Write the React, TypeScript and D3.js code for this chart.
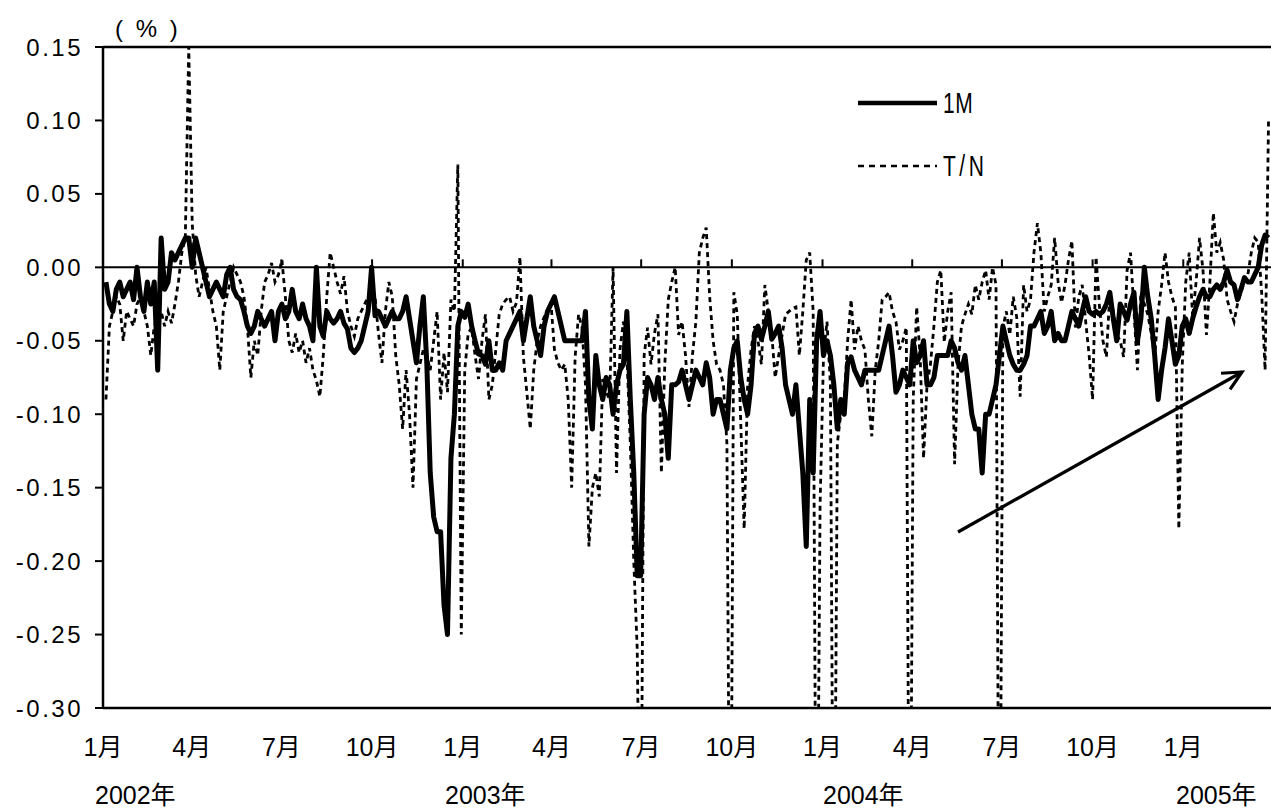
import React from 'react';
import * as d3 from 'd3';

// ---------- DATA (half-week steps from early Jan 2002) ----------
const oneM2002 = [
  -0.01, -0.025, -0.03, -0.015, -0.01, -0.02, -0.015, -0.01, -0.022, 0.0, -0.02, -0.03, -0.01,
  -0.025, -0.01, -0.07, 0.02, -0.015, -0.01, 0.01, 0.005, 0.01, 0.015, 0.02, 0.02, 0.0,
  0.02, 0.01, 0.0, -0.01, -0.02, -0.015, -0.01, -0.015, -0.02, -0.005, 0.0, -0.015, -0.02,
  -0.022, -0.03, -0.04, -0.045, -0.04, -0.03, -0.035, -0.04, -0.035, -0.03, -0.05, -0.03, -0.025,
  -0.035, -0.03, -0.015, -0.03, -0.035, -0.025, -0.035, -0.04, -0.05, 0.0, -0.04, -0.047, -0.03,
  -0.035, -0.038, -0.035, -0.03, -0.038, -0.042, -0.055, -0.058, -0.055, -0.05, -0.04, -0.03, 0.0,
  -0.033, -0.03, -0.035, -0.04, -0.035, -0.03, -0.035, -0.035, -0.03, -0.02, -0.035, -0.05, -0.065,
  -0.04, -0.02, -0.065, -0.14, -0.17, -0.18, -0.18, -0.23, -0.25, -0.13, -0.10, -0.04, -0.03,
];
const oneM2003 = [
  -0.034, -0.025, -0.04, -0.05, -0.059, -0.06, -0.066, -0.05, -0.07, -0.07, -0.065, -0.07, -0.05,
  -0.045, -0.04, -0.035, -0.03, -0.05, -0.035, -0.02, -0.04, -0.05, -0.06, -0.04, -0.03, -0.025,
  -0.02, -0.03, -0.04, -0.05, -0.05, -0.05, -0.05, -0.05, -0.05, -0.03, -0.09, -0.11, -0.06,
  -0.08, -0.09, -0.075, -0.08, -0.10, -0.08, -0.07, -0.066, -0.03, -0.09, -0.14, -0.21, -0.21,
  -0.10, -0.075, -0.08, -0.09, -0.075, -0.09, -0.10, -0.13, -0.08, -0.08, -0.078, -0.07, -0.08,
  -0.09, -0.08, -0.07, -0.075, -0.08, -0.065, -0.075, -0.10, -0.09, -0.09, -0.10, -0.11, -0.07,
  -0.055, -0.05, -0.075, -0.09, -0.10, -0.08, -0.045, -0.04, -0.049, -0.04, -0.03, -0.049, -0.045,
  -0.04, -0.055, -0.08, -0.09, -0.10, -0.08, -0.11, -0.14, -0.19, -0.09, -0.14, -0.05, -0.03,
];
const oneM2004 = [
  -0.06, -0.05, -0.06, -0.08, -0.11, -0.09, -0.10, -0.065, -0.061, -0.07, -0.075, -0.08, -0.07,
  -0.07, -0.07, -0.07, -0.07, -0.06, -0.05, -0.04, -0.06, -0.085, -0.08, -0.07, -0.075, -0.08,
  -0.05, -0.065, -0.06, -0.05, -0.08, -0.08, -0.075, -0.06, -0.06, -0.06, -0.06, -0.05, -0.055,
  -0.065, -0.07, -0.06, -0.08, -0.10, -0.11, -0.11, -0.14, -0.10, -0.10, -0.09, -0.08, -0.06,
  -0.04, -0.05, -0.06, -0.066, -0.07, -0.07, -0.066, -0.06, -0.04, -0.04, -0.035, -0.03, -0.045,
  -0.04, -0.03, -0.05, -0.045, -0.05, -0.05, -0.04, -0.03, -0.035, -0.04, -0.03, -0.02, -0.03,
  -0.032, -0.03, -0.032, -0.03, -0.025, -0.017, -0.035, -0.05, -0.025, -0.03, -0.036, -0.025, -0.017,
  -0.05, -0.035, 0.0, -0.02, -0.035, -0.06, -0.09, -0.07, -0.055, -0.035, -0.05, -0.066, -0.06,
];
const oneM2005 = [
  -0.04, -0.035, -0.045, -0.035, -0.027, -0.02, -0.015, -0.02, -0.02, -0.015, -0.012, -0.015, -0.01,
  -0.002, -0.01, -0.012, -0.022, -0.015, -0.007, -0.01, -0.01, -0.005, 0.0, 0.015, 0.022, 0.02,
];

const tn2002 = [
  -0.09, -0.04, -0.03, -0.02, -0.025, -0.05, -0.03, -0.035, -0.04, -0.025, -0.02, -0.03, -0.04,
  -0.06, -0.04, -0.035, -0.03, -0.04, -0.03, -0.038, -0.025, -0.01, 0.01, 0.02, 0.15, 0.03,
  -0.005, -0.02, -0.01, 0.0, -0.015, -0.03, -0.04, -0.07, -0.03, -0.02, -0.01, 0.0, -0.005,
  -0.01, -0.02, -0.04, -0.075, -0.05, -0.06, -0.03, -0.01, -0.005, 0.003, -0.01, -0.005, 0.005,
  -0.02, -0.05, -0.058, -0.045, -0.058, -0.05, -0.065, -0.055, -0.07, -0.077, -0.088, -0.06, -0.02,
  0.01, 0.0, -0.01, -0.018, -0.006, -0.03, -0.04, -0.047, -0.035, -0.03, -0.025, -0.02, -0.015,
  -0.02, -0.045, -0.065, -0.03, -0.01, -0.02, -0.06, -0.08, -0.11, -0.07, -0.10, -0.15, -0.076,
  -0.066, -0.056, -0.06, -0.07, -0.05, -0.03, -0.09, -0.058, -0.085, -0.022, -0.03, 0.07, -0.25,
];
const tn2003 = [
  -0.07, -0.045, -0.041, -0.06, -0.076, -0.05, -0.032, -0.09, -0.08, -0.056, -0.032, -0.025, -0.022,
  -0.02, -0.03, -0.024, 0.007, -0.061, -0.085, -0.11, -0.07, -0.05, -0.04, -0.034, -0.03, -0.024,
  -0.056, -0.065, -0.07, -0.066, -0.09, -0.15, -0.061, -0.032, -0.041, -0.08, -0.19, -0.15, -0.14,
  -0.156, -0.076, -0.085, -0.09, 0.0, -0.14, -0.056, -0.037, -0.06, -0.12, -0.20, -0.26, -0.45,
  -0.06, -0.041, -0.066, -0.045, -0.032, -0.14, -0.066, -0.022, -0.01, 0.0, -0.046, -0.037, -0.06,
  -0.095, -0.06, -0.037, 0.01, 0.02, 0.027, -0.02, -0.05, -0.066, -0.07, -0.08, -0.12, -0.50,
  -0.017, -0.032, -0.105, -0.178, -0.08, -0.056, -0.04, -0.05, -0.066, -0.012, -0.03, -0.046, -0.075,
  -0.06, -0.046, -0.032, -0.03, -0.028, -0.027, -0.06, -0.03, 0.005, 0.01, -0.03, -0.50, -0.163,
];
const tn2004 = [
  -0.06, -0.037, -0.08, -0.50, -0.12, -0.10, -0.09, -0.05, -0.022, -0.056, -0.04, -0.05, -0.056,
  -0.09, -0.115, -0.07, -0.05, -0.022, -0.02, -0.017, -0.03, -0.037, -0.056, -0.05, -0.041, -0.50,
  -0.09, -0.027, -0.06, -0.13, -0.08, -0.066, -0.04, -0.01, -0.002, -0.051, -0.03, -0.017, -0.134,
  -0.066, -0.04, -0.032, -0.025, -0.032, -0.012, -0.022, -0.01, -0.002, -0.022, 0.0, -0.012, -0.50,
  -0.041, -0.03, -0.046, -0.02, -0.034, -0.088, -0.012, -0.03, -0.022, 0.01, 0.03, 0.01, -0.03,
  -0.02, -0.012, 0.02, -0.01, -0.024, -0.012, 0.005, 0.018, -0.041, -0.02, -0.012, -0.037, -0.06,
  -0.09, 0.007, -0.027, -0.05, -0.061, -0.017, -0.03, -0.046, -0.05, -0.061, -0.002, 0.01, -0.03,
  -0.07, -0.017, -0.025, -0.032, -0.045, -0.061, -0.03, -0.012, 0.01, -0.01, -0.02, -0.027, -0.178,
];
const tn2005 = [
  -0.066, -0.01, 0.01, -0.034, -0.01, 0.02, -0.002, -0.046, -0.01, 0.037, 0.01, 0.017, 0.005,
  -0.022, -0.03, -0.037, -0.025, -0.017, -0.01, -0.005, 0.01, 0.02, 0.017, -0.017, -0.07, 0.10,
];

const monthLabels = ['1月', '4月', '7月', '10月', '1月', '4月', '7月', '10月', '1月', '4月', '7月', '10月', '1月'];
const yearLabels = ['2002年', '2003年', '2004年', '2005年'];
const yTickValues = [0.15, 0.1, 0.05, 0.0, -0.05, -0.1, -0.15, -0.2, -0.25, -0.3];
const seriesNames = ['1M', 'T/N'];

// ---------- LAYOUT ----------
const W = 1271;
const H = 811;
const PL = 103, PR = 1271, PT = 47, PB = 708;
const startDate = new Date(2002, 0, 1);
const endDate = new Date(2005, 2, 31);
const yearLabelX = [95, 445, 823, 1176];

const x = d3.scaleTime().domain([startDate, endDate]).range([PL, PR]);
const y = d3.scaleLinear().domain([-0.3, 0.15]).range([PB, PT]);
const fmt = d3.formatLocale({ decimal: '.', thousands: ',', grouping: [3], currency: ['', ''], minus: '-' }).format('.2f');

const DAY = 864e5;
const toPoints = (vals: number[]) =>
  vals.map((v, i) => ({ date: new Date(startDate.getTime() + (3 + 3.5 * i) * DAY), v }));

const oneM = toPoints([...oneM2002, ...oneM2003, ...oneM2004, ...oneM2005]);
const tn = toPoints([...tn2002, ...tn2003, ...tn2004, ...tn2005]);

const tickDates = d3.timeMonth.every(3)!.range(startDate, endDate);

const line = d3
  .line<{ date: Date; v: number }>()
  .x((d) => x(d.date))
  .y((d) => y(d.v));

const sansFont = '"Liberation Sans", Arial, sans-serif';
const labelFont = '"Liberation Sans", "Noto Sans CJK JP", sans-serif';

export default function App() {
  // arrow
  const ax1 = 958, ay1 = 532, ax2 = 1242, ay2 = 372;
  const ang = Math.atan2(ay1 - ay2, ax1 - ax2);
  const hl = 21, ha = (26 * Math.PI) / 180;
  const h1 = [ax2 + hl * Math.cos(ang - ha), ay2 + hl * Math.sin(ang - ha)];
  const h2 = [ax2 + hl * Math.cos(ang + ha), ay2 + hl * Math.sin(ang + ha)];

  return (
    <svg
      width={W}
      height={H}
      viewBox={`0 0 ${W} ${H}`}
      style={{ position: 'absolute', left: 0, top: 0, background: '#fff' }}
    >
      <defs>
        <clipPath id="plotClip">
          <rect x={PL} y={PT - 15} width={PR - PL} height={PB - PT + 15} />
        </clipPath>
      </defs>
      <rect x={0} y={0} width={W} height={H} fill="#fff" />

      {/* series */}
      <g clipPath="url(#plotClip)">
        <path d={line(tn) || ''} fill="none" stroke="#000" strokeWidth={2.8} strokeDasharray="5,4" />
        <path d={line(oneM) || ''} fill="none" stroke="#000" strokeWidth={5} strokeLinejoin="round" />
      </g>

      {/* zero line */}
      <line x1={PL} x2={PR} y1={y(0)} y2={y(0)} stroke="#000" strokeWidth={2} />
      {tickDates.map((d, i) => (
        <line key={'xt' + i} x1={x(d)} x2={x(d)} y1={y(0)} y2={y(0) - 8} stroke="#000" strokeWidth={2} />
      ))}

      {/* frame */}
      <line x1={PL} x2={PR + 2} y1={PT} y2={PT} stroke="#000" strokeWidth={2.5} />
      <line x1={PL} x2={PR + 2} y1={PB} y2={PB} stroke="#000" strokeWidth={2.5} />
      <line x1={PL} x2={PL} y1={PT - 1} y2={PB + 1} stroke="#000" strokeWidth={2.5} />

      {/* y ticks */}
      {yTickValues.map((v, i) => (
        <g key={'yt' + i}>
          <line x1={PL - 8} x2={PL} y1={y(v)} y2={y(v)} stroke="#000" strokeWidth={2} />
          <text
            x={83}
            y={y(v)}
            textAnchor="end"
            dominantBaseline="central"
            fontFamily={sansFont}
            fontSize={24}
            letterSpacing={2.5}
            fill="#000"
          >
            {fmt(v)}
          </text>
        </g>
      ))}
      <text x={115} y={37} fontFamily={sansFont} fontSize={24} letterSpacing={3} fill="#000">
        ( % )
      </text>

      {/* x labels */}
      {tickDates.map((d, i) => (
        <text
          key={'ml' + i}
          x={x(d)}
          y={756}
          textAnchor="middle"
          fontFamily={labelFont}
          fontSize={25}
          fill="#000"
        >
          {monthLabels[i]}
        </text>
      ))}
      {yearLabels.map((t, i) => (
        <text key={'yl' + i} x={yearLabelX[i]} y={804} fontFamily={labelFont} fontSize={25} fill="#000">
          {t}
        </text>
      ))}

      {/* legend */}
      <line x1={858} x2={937} y1={103} y2={103} stroke="#000" strokeWidth={4.5} />
      <text
        transform="translate(943,103) scale(0.7,1)"
        dominantBaseline="central"
        fontFamily={sansFont}
        fontSize={30}
        letterSpacing={1}
        fill="#000"
      >
        {seriesNames[0]}
      </text>
      <line x1={858} x2={937} y1={166} y2={166} stroke="#000" strokeWidth={2.6} strokeDasharray="6,5" />
      <text
        transform="translate(943,166) scale(0.7,1)"
        dominantBaseline="central"
        fontFamily={sansFont}
        fontSize={30}
        letterSpacing={5}
        fill="#000"
      >
        {seriesNames[1]}
      </text>

      {/* arrow */}
      <line x1={ax1} y1={ay1} x2={ax2} y2={ay2} stroke="#000" strokeWidth={3.2} />
      <polyline
        points={`${h1[0]},${h1[1]} ${ax2},${ay2} ${h2[0]},${h2[1]}`}
        fill="none"
        stroke="#000"
        strokeWidth={3.2}
      />
    </svg>
  );
}
